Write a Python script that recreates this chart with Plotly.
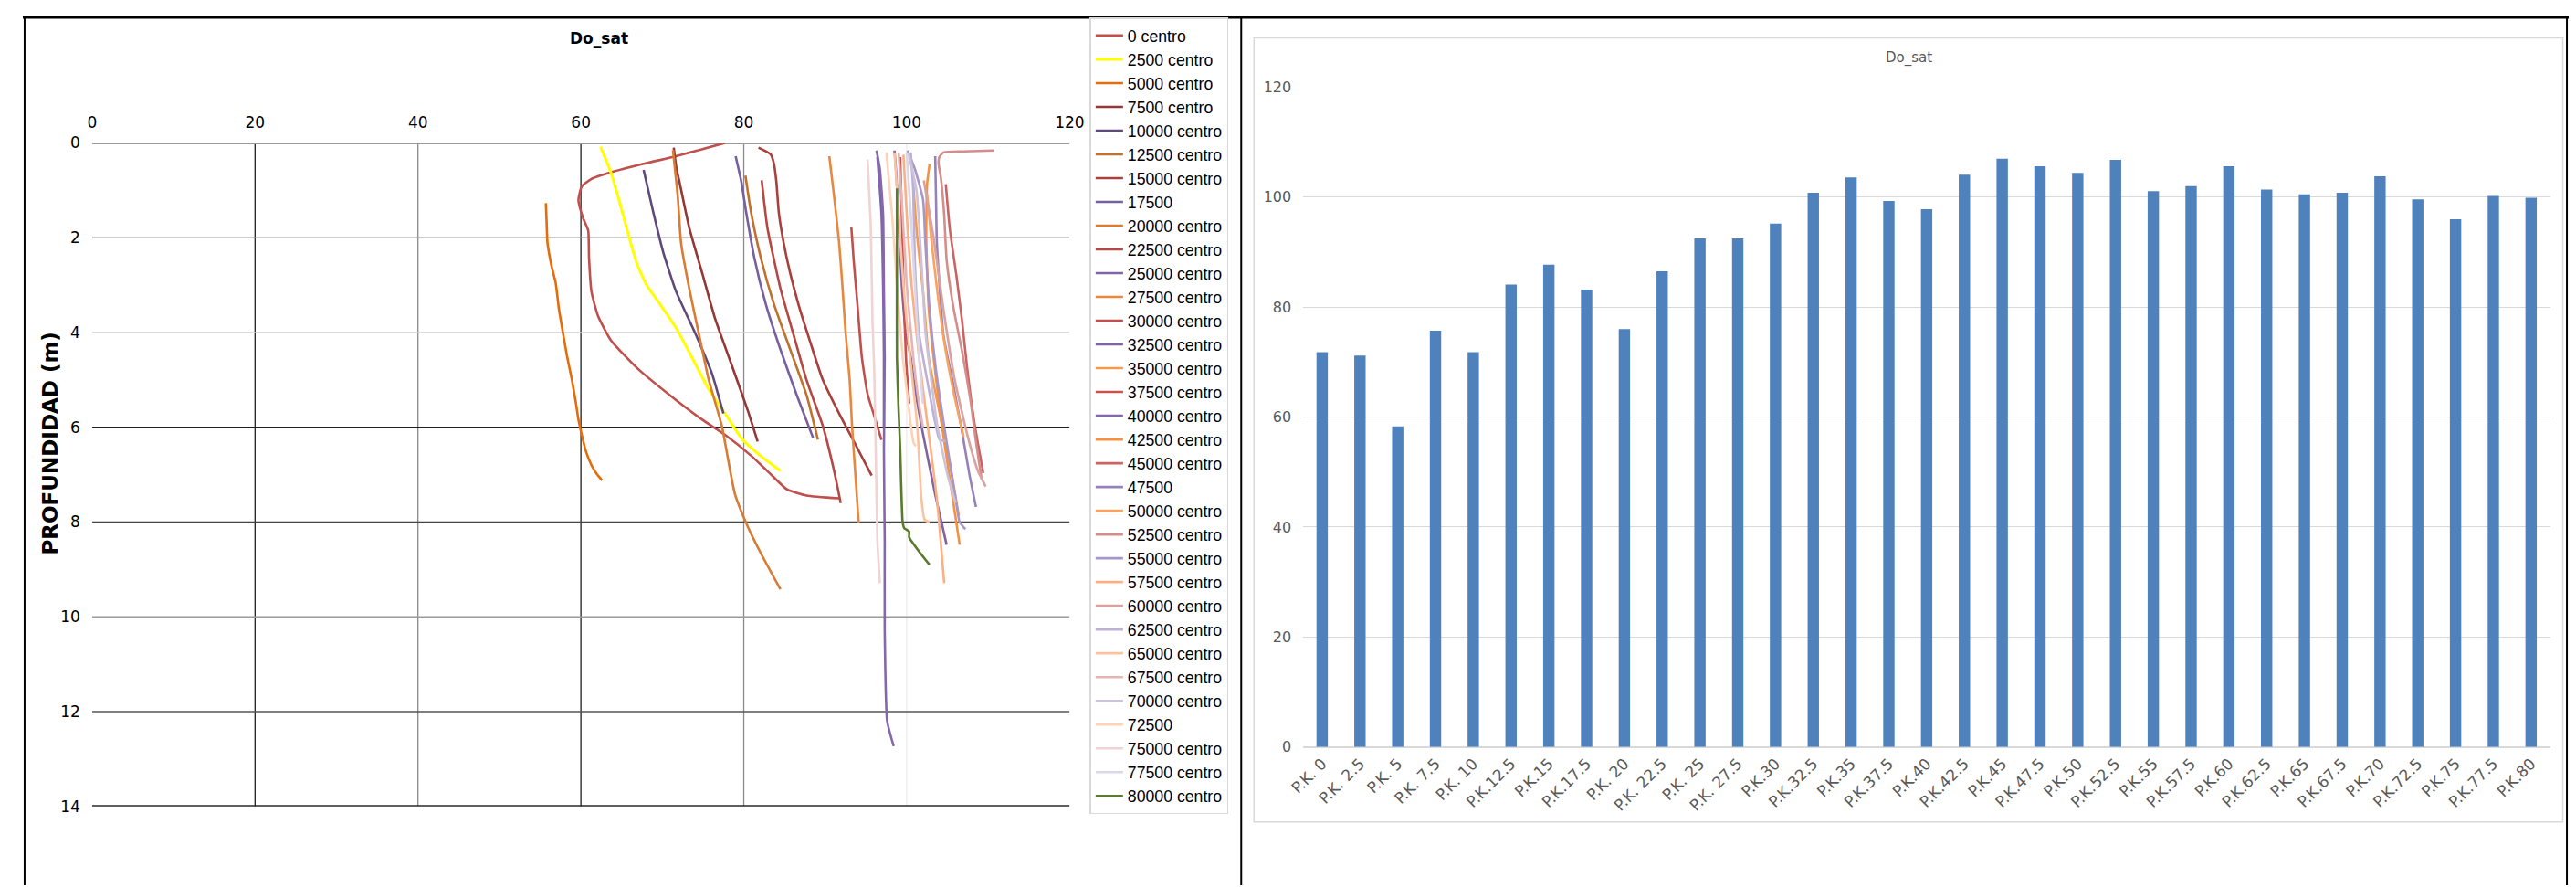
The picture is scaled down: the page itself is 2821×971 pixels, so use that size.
import plotly.graph_objects as go

# ---------------- data: left chart (DO saturation profiles vs depth) ----------------
series_names = ["0 centro", "2500 centro", "5000 centro", "7500 centro", "10000 centro",
                "12500 centro", "15000 centro", "17500", "20000 centro", "22500 centro",
                "25000 centro", "27500 centro", "30000 centro", "32500 centro", "35000 centro",
                "37500 centro", "40000 centro", "42500 centro", "45000 centro", "47500",
                "50000 centro", "52500 centro", "55000 centro", "57500 centro", "60000 centro",
                "62500 centro", "65000 centro", "67500 centro", "70000 centro", "72500",
                "75000 centro", "77500 centro", "80000 centro"]

v_00000 = [77.7, 71.7, 67.7, 63.7, 61.3, 60.1, 59.7, 60.3, 60.9, 61.0, 61.3, 62.1, 63.7, 66.9, 70.9, 74.9, 77.7, 80.9, 83.3, 85.3, 87.7, 91.7]
d_00000 = [0.0, 0.28, 0.44, 0.62, 0.76, 0.92, 1.21, 1.6, 1.85, 2.43, 3.14, 3.65, 4.17, 4.75, 5.32, 5.84, 6.16, 6.6, 6.99, 7.31, 7.44, 7.5]
v_02500 = [62.4, 63.7, 64.9, 65.9, 66.9, 68.1, 69.7, 71.7, 74.1, 75.7, 77.7, 79.7, 82.1, 84.5]
d_02500 = [0.08, 0.63, 1.34, 1.98, 2.56, 3.01, 3.40, 3.91, 4.68, 5.20, 5.71, 6.23, 6.61, 6.92]
v_05000 = [55.7, 55.8, 55.9, 56.4, 56.9, 57.3, 57.7, 58.3, 58.9, 59.4, 59.7, 60.1, 60.6, 61.3, 62.0, 62.6]
d_05000 = [1.27, 1.7, 2.11, 2.6, 2.95, 3.5, 3.91, 4.5, 5.0, 5.5, 5.84, 6.15, 6.5, 6.8, 7.0, 7.12]
v_07500 = [71.4, 71.7, 72.1, 73.3, 74.9, 76.5, 78.5, 80.5, 81.7]
d_07500 = [0.10, 0.5, 0.82, 1.79, 2.75, 3.72, 4.68, 5.65, 6.30]
v_10000 = [67.7, 68.9, 70.1, 71.7, 74.1, 76.1, 77.5]
d_10000 = [0.57, 1.47, 2.3, 3.14, 4.04, 4.87, 5.71]
v_12500 = [80.2, 80.9, 82.1, 83.7, 85.7, 87.7, 89.1]
d_12500 = [0.69, 1.47, 2.43, 3.4, 4.36, 5.32, 6.26]
v_15000 = [81.8, 83.3, 83.7, 84.0, 84.3, 84.9, 85.7, 86.7, 88.1, 89.7, 91.7, 93.3, 95.7]
d_15000 = [0.10, 0.24, 0.44, 0.82, 1.47, 2.11, 2.75, 3.4, 4.17, 5.0, 5.71, 6.23, 7.02]
v_17500 = [79.0, 79.7, 80.3, 81.3, 82.7, 84.5, 86.5, 88.5]
d_17500 = [0.28, 0.82, 1.47, 2.43, 3.4, 4.36, 5.32, 6.22]
v_20000 = [71.3, 71.9, 72.3, 73.3, 74.5, 75.7, 77.3, 78.9, 80.5, 82.1, 84.5]
d_20000 = [0.15, 1.14, 2.11, 3.07, 4.04, 5.0, 5.97, 7.4, 8.1, 8.66, 9.42]
v_22500 = [82.2, 82.9, 84.5, 86.1, 87.7, 89.7, 91.1, 91.9]
d_22500 = [0.79, 1.79, 3.07, 4.04, 5.0, 5.97, 6.93, 7.6]
v_25000 = [96.4, 96.9, 97.1, 97.2, 97.2]
d_25000 = [0.3, 1.5, 3.0, 4.5, 6.0]
v_27500 = [90.5, 91.0, 91.7, 92.1, 92.5, 93.0, 93.3, 93.7, 94.1]
d_27500 = [0.28, 1.0, 2.1, 3.0, 4.0, 5.0, 6.0, 7.0, 8.02]
v_30000 = [93.2, 93.5, 93.9, 94.5, 95.2, 96.0, 96.9]
d_30000 = [1.77, 2.5, 3.3, 4.53, 5.3, 5.75, 6.27]
v_32500 = [98.5, 98.7, 99.0, 99.4, 99.9, 100.5, 101.0, 102.0, 103.5, 104.9]
d_32500 = [0.16, 0.6, 1.6, 3.0, 4.0, 4.53, 5.17, 6.14, 7.42, 8.48]
v_35000 = [100.8, 101.3, 102.0, 102.7, 103.8, 105.3, 106.4]
d_35000 = [0.87, 2.0, 3.12, 4.53, 5.5, 6.78, 7.87]
v_37500 = [99.2, 99.4, 99.6, 99.9, 100.3]
d_37500 = [0.3, 1.5, 3.0, 4.5, 5.5]
v_40000 = [96.3, 96.7, 97.1, 97.2, 97.3, 97.2, 97.3, 97.3, 97.6, 98.4]
d_40000 = [0.16, 0.55, 1.51, 3.12, 4.53, 6.46, 8.39, 10.3, 12.2, 12.73]
v_42500 = [102.8, 102.5, 102.4, 102.7, 103.3, 104.2, 105.3, 106.5]
d_42500 = [0.45, 0.87, 2.0, 3.5, 4.53, 5.82, 7.1, 8.48]
v_45000 = [104.8, 105.3, 106.1, 106.8, 107.4, 108.3, 109.4]
d_45000 = [0.87, 1.83, 2.8, 3.76, 4.72, 5.9, 6.97]
v_47500 = [103.5, 103.6, 103.7, 104.5, 105.6, 106.7, 107.7, 108.5]
d_47500 = [0.28, 1.2, 2.1, 4.04, 5.0, 6.0, 7.0, 7.68]
v_50000 = [102.5, 103.0, 103.8, 104.7, 105.8, 107.0]
d_50000 = [1.08, 2.0, 3.2, 4.3, 5.3, 6.2]
v_52500 = [110.7, 107.0, 104.5, 104.0, 103.9, 104.2, 104.6, 104.9, 105.7, 106.8, 107.8, 108.5, 109.2]
d_52500 = [0.16, 0.18, 0.2, 0.3, 0.42, 0.74, 1.51, 2.47, 3.44, 4.4, 5.4, 6.3, 7.1]
v_55000 = [100.1, 101.0, 102.0, 102.3, 102.8, 103.6, 104.8, 106.0, 106.5, 107.2]
d_55000 = [0.16, 0.55, 1.19, 2.15, 3.5, 4.8, 6.2, 7.5, 8.0, 8.15]
v_57500 = [99.6, 100.0, 100.6, 101.5, 102.6, 103.7, 104.6]
d_57500 = [0.25, 1.5, 3.0, 4.5, 6.0, 7.5, 9.29]
v_60000 = [102.1, 103.3, 104.5, 105.9, 107.5, 108.7, 109.7]
d_60000 = [0.79, 2.0, 3.5, 5.0, 6.2, 6.9, 7.25]
v_62500 = [100.5, 100.8, 101.0, 101.5, 102.5, 103.5, 104.0, 104.8]
d_62500 = [0.2, 1.0, 2.5, 4.0, 5.0, 5.9, 6.25, 6.3]
v_65000 = [98.5, 99.0, 99.6, 100.4, 101.3, 101.8, 102.2, 102.8]
d_65000 = [0.2, 1.5, 3.0, 4.5, 6.0, 7.5, 7.95, 8.0]
v_67500 = [99.0, 99.5, 100.0, 100.8, 101.5, 102.0]
d_67500 = [0.2, 1.5, 3.0, 4.5, 5.5, 6.0]
v_70000 = [100.2, 101.2, 101.8, 102.3, 103.0, 103.8, 105.0, 106.0]
d_70000 = [0.2, 1.0, 2.5, 4.0, 5.0, 6.0, 7.0, 7.6]
v_72500 = [97.5, 98.2, 98.8, 99.5, 100.2, 100.8, 101.1]
d_72500 = [0.2, 1.5, 3.0, 4.5, 5.5, 6.3, 6.4]
v_75000 = [95.2, 95.6, 95.8, 96.0, 96.2, 96.4, 96.7]
d_75000 = [0.35, 1.83, 3.76, 4.72, 6.46, 8.39, 9.29]
v_77500 = [100.0, 100.5, 101.0, 101.5, 102.0]
d_77500 = [0.2, 1.5, 3.0, 4.5, 5.5]
v_80000 = [98.8, 98.8, 98.8, 99.0, 99.2, 99.5, 99.7, 100.3, 100.3, 101.6, 102.8]
d_80000 = [0.96, 2.5, 4.53, 5.62, 6.46, 8.0, 8.13, 8.2, 8.32, 8.64, 8.9]

profile_values = [v_00000, v_02500, v_05000, v_07500, v_10000, v_12500, v_15000, v_17500,
                  v_20000, v_22500, v_25000, v_27500, v_30000, v_32500, v_35000, v_37500,
                  v_40000, v_42500, v_45000, v_47500, v_50000, v_52500, v_55000, v_57500,
                  v_60000, v_62500, v_65000, v_67500, v_70000, v_72500, v_75000, v_77500, v_80000]
profile_depths = [d_00000, d_02500, d_05000, d_07500, d_10000, d_12500, d_15000, d_17500,
                  d_20000, d_22500, d_25000, d_27500, d_30000, d_32500, d_35000, d_37500,
                  d_40000, d_42500, d_45000, d_47500, d_50000, d_52500, d_55000, d_57500,
                  d_60000, d_62500, d_65000, d_67500, d_70000, d_72500, d_75000, d_77500, d_80000]

x_ticks_left = [0, 20, 40, 60, 80, 100, 120]
y_ticks_left = [0, 2, 4, 6, 8, 10, 12, 14]

# ---------------- data: right chart (mean DO saturation per P.K.) ----------------
pk_labels = ["P.K. 0", "P.K. 2.5", "P.K. 5", "P.K. 7.5", "P.K. 10", "P.K.12.5", "P.K.15",
             "P.K.17.5", "P.K. 20", "P.K. 22.5", "P.K. 25", "P.K. 27.5", "P.K.30", "P.K.32.5",
             "P.K.35", "P.K.37.5", "P.K.40", "P.K.42.5", "P.K.45", "P.K.47.5", "P.K.50",
             "P.K.52.5", "P.K.55", "P.K.57.5", "P.K.60", "P.K.62.5", "P.K.65", "P.K.67.5",
             "P.K.70", "P.K.72.5", "P.K.75", "P.K.77.5", "P.K.80"]
do_sat_mean = [71.8, 71.2, 58.3, 75.7, 71.8, 84.1, 87.7, 83.2, 76.0, 86.5, 92.5, 92.5, 95.2,
               100.8, 103.6, 99.3, 97.8, 104.1, 107.0, 105.6, 104.4, 106.8, 101.1, 102.0,
               105.6, 101.4, 100.5, 100.8, 103.8, 99.6, 96.0, 100.2, 99.9]

# ---------------- styles ----------------
line_colors = ["#C0504D", "#FFFF00", "#E46C0A", "#953735", "#5F497A", "#C0712F", "#A9403D",
               "#7660A0", "#D97B33", "#B54744", "#7E65A9", "#E8883F", "#C0504D", "#8064A2",
               "#F59A4C", "#C9514E", "#8568AC", "#F7913F", "#C96462", "#9682BA", "#F9A35E",
               "#D48D8B", "#A797C8", "#FBB084", "#D9A2A1", "#BCB0D4", "#FCC2A0", "#E4B5B4",
               "#CBC2DC", "#FCD3B8", "#EFD4D3", "#DCD6EA", "#5A7B2E"]

# Figure size and a measured placement correction (figure -> picture)
W, H = 2821, 971
SX, AX = 0.9888, 24.07
SY, AY = 0.979, 16.6
def fx(x):
    return (x - AX) / SX
def fy(y):
    return (y - AY) / SY
def px(x):
    return min(max(fx(x) / W, 0.0), 1.0)
def py(y):
    return min(max(1 - fy(y) / H, 0.0), 1.0)

LEFT_FONT = "Liberation Sans, Arial, sans-serif"
WIDE_FONT = "DejaVu Sans, sans-serif"

fig = go.Figure()

for name, vals, deps, col in zip(series_names, profile_values, profile_depths, line_colors):
    fig.add_trace(go.Scatter(x=vals, y=deps, mode="lines", name=name,
                             line=dict(color=col, width=2.6 if col != "#FFFF00" else 3,
                                       shape="spline", smoothing=0.5),
                             xaxis="x", yaxis="y", hoverinfo="skip"))

fig.add_trace(go.Bar(x=pk_labels, y=do_sat_mean, marker=dict(color="#4F81BD", line=dict(width=0)),
                     xaxis="x2", yaxis="y2", showlegend=False))

shapes = []
vgrid_colors = {20: "#1e1e1e", 40: "#8a8a8a", 60: "#1e1e1e", 80: "#8a8a8a", 100: "#ececec"}
for xv in x_ticks_left[1:-1]:
    shapes.append(dict(type="line", xref="x", yref="y", x0=xv, x1=xv, y0=0, y1=14,
                       line=dict(color=vgrid_colors[xv], width=1.3), layer="below"))
hgrid_colors = {2: "#9a9a9a", 4: "#cfcfcf", 6: "#1e1e1e", 8: "#444444", 10: "#9a9a9a", 12: "#555555"}
for yv in y_ticks_left[1:-1]:
    shapes.append(dict(type="line", xref="x", yref="y", x0=0, x1=120, y0=yv, y1=yv,
                       line=dict(color=hgrid_colors[yv], width=1.3), layer="below"))
shapes.append(dict(type="line", xref="x", yref="y", x0=0, x1=120, y0=0, y1=0,
                   line=dict(color="#9a9a9a", width=3), layer="below"))
shapes.append(dict(type="line", xref="x", yref="y", x0=0, x1=120, y0=14, y1=14,
                   line=dict(color="#2a2a2a", width=3), layer="below"))

# outline of the right chart area
shapes.append(dict(type="rect", xref="paper", yref="paper", x0=px(1373), x1=px(2807),
                   y0=py(898), y1=py(40), line=dict(color="#D9D9D9", width=1.5)))
# document table borders
top_y = 0.999
shapes.append(dict(type="line", xref="paper", yref="paper", x0=0, x1=1, y0=top_y, y1=top_y,
                   line=dict(color="black", width=3)))
for xpos in [0.0007, px(1359), 0.9993]:
    shapes.append(dict(type="line", xref="paper", yref="paper", x0=xpos, x1=xpos,
                       y0=0, y1=top_y, line=dict(color="black", width=2)))

annotations = [
    dict(text="<b>Do_sat</b>", x=px(655), y=py(41), xref="paper", yref="paper",
         xanchor="center", yanchor="middle", showarrow=False,
         font=dict(family=WIDE_FONT, size=17, color="black")),
    dict(text="<b>PROFUNDIDAD (m)</b>", x=px(54), y=py(484), xref="paper", yref="paper",
         xanchor="center", yanchor="middle", showarrow=False, textangle=-90,
         font=dict(family=WIDE_FONT, size=23, color="black")),
    dict(text="Do_sat", x=px(2091), y=py(62), xref="paper", yref="paper",
         xanchor="center", yanchor="middle", showarrow=False,
         font=dict(family=WIDE_FONT, size=15, color="#595959")),
]

fig.update_layout(
    width=W, height=H, autosize=False,
    margin=dict(l=0, r=0, t=0, b=0),
    paper_bgcolor="white", plot_bgcolor="rgba(0,0,0,0)",
    font=dict(family=LEFT_FONT, color="black"),
    showlegend=True,
    legend=dict(x=px(1193), y=py(18), xanchor="left", yanchor="top",
                bordercolor="#D9D9D9", borderwidth=1.5, bgcolor="white",
                font=dict(family=LEFT_FONT, size=17.7, color="black"),
                tracegroupgap=0, itemwidth=30),
    xaxis=dict(domain=[px(100), px(1171)], range=[0, 120], side="top", tickvals=x_ticks_left,
               showgrid=False, zeroline=False, showline=False, ticks="",
               tickfont=dict(size=17, family=WIDE_FONT), anchor="y", ticklabelstandoff=12),
    yaxis=dict(domain=[py(881), py(155)], range=[14, 0], tickvals=y_ticks_left,
               showgrid=False, zeroline=False, showline=False, ticks="",
               tickfont=dict(size=17, family=WIDE_FONT), anchor="x", ticklabelstandoff=12),
    xaxis2=dict(domain=[px(1427), px(2793)], type="category", tickangle=-45,
                tickfont=dict(size=17, family=WIDE_FONT, color="#595959"), anchor="y2",
                showgrid=False, showline=False, ticks="", ticklabelstandoff=4),
    yaxis2=dict(domain=[py(816), py(94)], range=[0, 120], dtick=20, anchor="x2",
                gridcolor="#D9D9D9", gridwidth=1.3, zeroline=True, zerolinecolor="#D9D9D9",
                zerolinewidth=1.5, showline=False, ticks="",
                tickfont=dict(size=16, family=WIDE_FONT, color="#595959"), ticklabelstandoff=12),
    bargap=0.7,
    shapes=shapes,
    annotations=annotations,
)

fig.write_html("out.html")
